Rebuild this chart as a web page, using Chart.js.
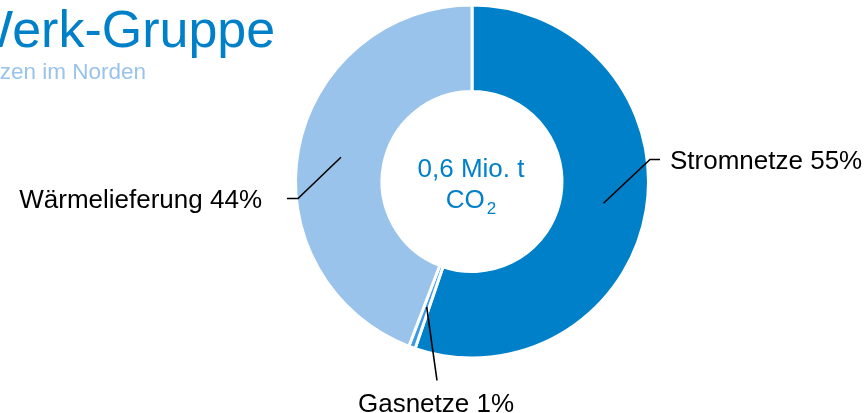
<!DOCTYPE html>
<html>
<head>
<meta charset="utf-8">
<script src="https://cdn.jsdelivr.net/npm/chart.js@4/dist/chart.umd.min.js"></script>
<style>
  html, body { margin: 0; padding: 0; background: #ffffff; }
  #c { display: block; }
</style>
</head>
<body>
<canvas id="c" width="867" height="413"></canvas>
<script>
// ---- data ----
const categories = ['Stromnetze', 'Gasnetze', 'Wärmelieferung'];
const values = [55, 0.6, 44];
const percentLabels = ['55%', '1%', '44%'];
const centerLine1 = '0,6 Mio. t';
const centerLine2 = 'CO';
const centerSub = '2';
const titleText = 'Werk-Gruppe';
const subtitleText = 'Emissionen aus Netzen im Norden';

// ---- styles ----
const sliceColors = ['#0080c8', '#3a9ae8', '#99c3ea'];
const FONT = '"Liberation Sans", Arial, sans-serif';

const calloutPlugin = {
  id: 'callouts',
  afterDatasetsDraw(chart, args, opts) {
    const ctx = chart.ctx;
    const meta = chart.getDatasetMeta(0);
    ctx.save();
    ctx.strokeStyle = '#000000';
    ctx.lineWidth = 1.6;
    ctx.fillStyle = '#000000';
    ctx.font = '26px ' + FONT;
    meta.data.forEach((arc, i) => {
      const p = arc.getProps(['x', 'y', 'startAngle', 'endAngle', 'innerRadius', 'outerRadius'], true);
      const mid = (p.startAngle + p.endAngle) / 2;
      const r = (p.innerRadius + p.outerRadius) / 2;
      const sx = p.x + Math.cos(mid) * r;
      const sy = p.y + Math.sin(mid) * r;
      const c = opts.items[i];
      const ex = p.x + c.elbow[0];
      const ey = p.y + c.elbow[1];
      ctx.beginPath();
      ctx.moveTo(sx, sy);
      ctx.lineTo(ex, ey);
      if (c.tail) ctx.lineTo(ex + c.tail, ey);
      ctx.stroke();
      const label = categories[i] + ' ' + percentLabels[i];
      ctx.textAlign = c.align;
      ctx.textBaseline = 'alphabetic';
      ctx.fillText(label, p.x + c.text[0], p.y + c.text[1]);
    });
    ctx.restore();
  }
};

const decorPlugin = {
  id: 'decor',
  afterDraw(chart) {
    const ctx = chart.ctx;
    const meta = chart.getDatasetMeta(0);
    const a = meta.data[0];
    const cx = a.x, cy = a.y;
    ctx.save();
    // title
    ctx.fillStyle = '#0080c8';
    ctx.textAlign = 'left';
    ctx.textBaseline = 'alphabetic';
    ctx.font = '52px ' + FONT;
    ctx.fillText(titleText, -36, 47);
    // subtitle
    ctx.fillStyle = '#99c3ea';
    ctx.textAlign = 'right';
    ctx.font = '22.5px ' + FONT;
    ctx.fillText(subtitleText, 146, 79);
    // center text
    ctx.fillStyle = '#0080c8';
    ctx.font = '26px ' + FONT;
    ctx.textAlign = 'center';
    ctx.fillText(centerLine1, cx - 1, cy - 5);
    const w1 = ctx.measureText(centerLine2).width;
    ctx.font = '17px ' + FONT;
    const w2 = ctx.measureText(centerSub).width;
    const total = w1 + 2 + w2;
    const left = cx - 1 - total / 2;
    ctx.textAlign = 'left';
    ctx.font = '26px ' + FONT;
    ctx.fillText(centerLine2, left, cy + 26);
    ctx.font = '17px ' + FONT;
    ctx.fillText(centerSub, left + w1 + 2, cy + 32);
    ctx.restore();
  }
};

new Chart(document.getElementById('c'), {
  type: 'doughnut',
  data: {
    labels: categories,
    datasets: [{
      data: values,
      backgroundColor: sliceColors,
      borderColor: '#ffffff',
      borderWidth: 3,
      hoverOffset: 0
    }]
  },
  options: {
    responsive: false,
    animation: false,
    cutout: '51%',
    layout: { padding: { left: 294, right: 217, top: 3.5, bottom: 53.5 } },
    plugins: {
      legend: { display: false },
      tooltip: { enabled: false },
      title: { display: false },
      callouts: {
        items: [
          { elbow: [178, -22], tail: 10, text: [198, -13], align: 'left' },
          { elbow: [-35, 199], tail: 0, text: [-36, 230], align: 'center' },
          { elbow: [-174, 17], tail: -11, text: [-210, 26], align: 'right' }
        ]
      }
    }
  },
  plugins: [calloutPlugin, decorPlugin]
});
</script>
</body>
</html>
